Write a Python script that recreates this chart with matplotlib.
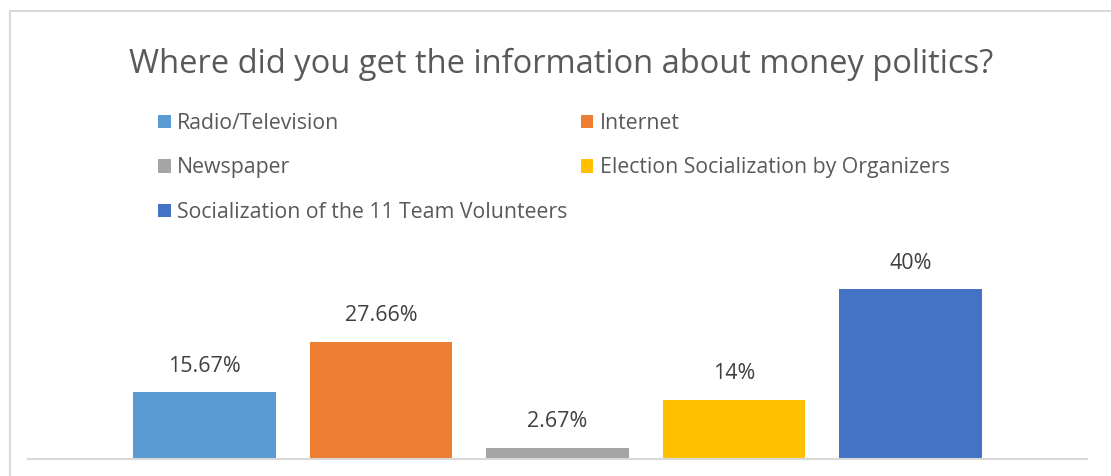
import matplotlib.pyplot as plt
from matplotlib.patches import Rectangle

labels = ["Radio/Television", "Internet", "Newspaper",
          "Election Socialization by Organizers",
          "Socialization of the 11 Team Volunteers"]
values = [15.67, 27.66, 2.67, 14, 40]
value_text = ["15.67%", "27.66%", "2.67%", "14%", "40%"]
colors = ["#5B9BD5", "#ED7D31", "#A5A5A5", "#FFC000", "#4472C4"]

plt.rcParams['font.family'] = ['Open Sans', 'DejaVu Sans']

W, H = 1111, 476
fig = plt.figure(figsize=(W / 100, H / 100), dpi=100)

# chart border (cut off at right and bottom)
fig.patches.append(Rectangle((9.5 / W, -0.1), 1.2, 1.1 - 11.5 / H,
                             transform=fig.transFigure, fill=False,
                             edgecolor="#D9D9D9", lw=1.5))

ax = fig.add_axes([28 / W, (H - 459) / H, (1087 - 28) / W, (459 - 268) / H])
handles = []
for i, (v, c, lab) in enumerate(zip(values, colors, labels)):
    b = ax.bar(i, v, width=0.807, color=c, label=lab)
    handles.append(b)
    ax.text(i, v + 3.7, value_text[i], ha="center", va="bottom",
            fontsize=15.5, color="#404040")

ax.set_xlim(-1.0, 5.0)
ax.set_ylim(0, 45)
ax.set_xticks([])
ax.set_yticks([])
for s in ["top", "right", "left"]:
    ax.spines[s].set_visible(False)
ax.spines["bottom"].set_color("#D9D9D9")
ax.spines["bottom"].set_linewidth(1.5)

fig.text(561 / W, 1 - 64 / H, "Where did you get the information about money politics?",
         ha="center", va="center", fontsize=23.5, color="#595959")

order = [0, 2, 4, 1, 3]
leg = fig.legend([handles[k] for k in order], [labels[k] for k in order],
                 ncol=2, loc="upper left", bbox_to_anchor=(158 / W, 1 - 113 / H),
                 frameon=False, fontsize=15.3, handlelength=0.6, handleheight=0.6,
                 handletextpad=0.3, columnspacing=0.62, labelspacing=1.1,
                 borderpad=0, borderaxespad=0)
for t in leg.get_texts():
    t.set_color("#595959")

fig.savefig("out.png", dpi=100)
